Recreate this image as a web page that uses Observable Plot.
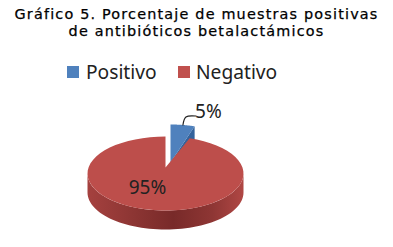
<!DOCTYPE html>
<html>
<head>
<meta charset="utf-8">
<script src="https://cdn.jsdelivr.net/npm/d3@7"></script>
<script src="https://cdn.jsdelivr.net/npm/@observablehq/plot@0.6"></script>
<style>
html,body{margin:0;padding:0;background:#fff;overflow:hidden}
#head{position:relative;width:393px;height:90px}
#title{position:absolute;left:0;top:6px;width:393px;text-align:center;font:14.4px/17px "DejaVu Sans",sans-serif;letter-spacing:1.18px;color:#000;-webkit-text-stroke:.25px #000;white-space:nowrap}
.lg{position:absolute;top:58px;font:19.2px/27px "Noto Sans",sans-serif;color:#222}
.sw{position:absolute;top:66px;width:12px;height:12px}
#chart svg{display:block}
</style>
</head>
<body>
<div id="head">
  <div id="title"></div>
  <span class="sw" style="left:67px;background:#4f81bd"></span><span class="lg" style="left:86px" id="l0"></span>
  <span class="sw" style="left:178px;background:#c0504d"></span><span class="lg" style="left:196px" id="l1"></span>
</div>
<div id="chart"></div>
<script>
const titleLines = ["Gráfico 5. Porcentaje de muestras positivas", "de antibióticos betalactámicos"];
const categories = ["Positivo", "Negativo"];
const values = [5, 95];
const labels = ["5%", "95%"];

document.getElementById("title").innerHTML = titleLines.join("<br>");
categories.forEach((c, i) => document.getElementById("l" + i).textContent = c);

// projection of the tilted pie
const rx = 78, ry = 37, depth = 19;
const centers = [{x: 170, y: 161, lift: 1}, {x: 165, y: 173, lift: -6}];
const arcs = d3.pie().sort(null).startAngle(0).endAngle(2 * Math.PI)(values);
const px = (c, a) => c.x + rx * Math.sin(a);
const py = (c, a) => c.y - ry * Math.cos(a);
const steps = (a0, a1) => d3.range(0, 61).map(i => a0 + (a1 - a0) * i / 60);

const face = i => {
  const c = centers[i], a = arcs[i];
  return [{x: c.x, y: c.y + c.lift}, ...steps(a.startAngle, a.endAngle).map(t => ({x: px(c, t), y: py(c, t)}))];
};
// red outer wall: visible half of the rim
const redC = centers[1];
const wall = [
  ...steps(Math.PI / 2, 3 * Math.PI / 2).map(t => ({x: px(redC, t), y: py(redC, t)})),
  ...steps(3 * Math.PI / 2, Math.PI / 2).map(t => ({x: px(redC, t), y: py(redC, t) + depth}))
];
// blue cut face
const bc = centers[0], be = arcs[0].endAngle;
const cut = [
  {x: bc.x, y: bc.y + bc.lift},
  {x: px(bc, be), y: py(bc, be)},
  {x: px(bc, be), y: py(bc, be) + depth - 5},
  {x: bc.x, y: bc.y + bc.lift + depth}
];
const tip = {x: px(bc, 0.16), y: py(bc, 0.16)};
const leader = [tip, {x: tip.x + 3, y: tip.y - 8}, {x: tip.x + 13, y: tip.y - 9}];

const defs = () => {
  const ns = "http://www.w3.org/2000/svg";
  const d = document.createElementNS(ns, "defs");
  d.innerHTML = `<linearGradient id="side" x1="0" x2="1" y1="0" y2="0">
    <stop offset="0" stop-color="#a5413f"/><stop offset=".3" stop-color="#8c3533"/>
    <stop offset=".55" stop-color="#782a29"/><stop offset=".8" stop-color="#8e3634"/>
    <stop offset="1" stop-color="#b04744"/></linearGradient>`;
  return d;
};

const poly = (pts, fill) => Plot.line(pts, {x: "x", y: "y", fill, stroke: "none", curve: "linear"});

document.getElementById("chart").append(Plot.plot({
  width: 393, height: 157,
  margin: 0,
  x: {domain: [0, 393], range: [0, 393], axis: null},
  y: {domain: [90, 247], range: [0, 157], axis: null},
  style: {background: "#fff"},
  marks: [
    defs,
    poly(cut, "#33639c"),
    poly(face(0), "#4f81bd"),
    poly(wall, "url(#side)"),
    poly(face(1), "#bd4e4b"),
    Plot.line(leader, {x: "x", y: "y", stroke: "#222", strokeWidth: 1.2, curve: "catmull-rom"}),
    Plot.text([labels[0]], {x: () => tip.x + 25.5, y: () => tip.y - 13, text: d => d, fontSize: 19, fill: "#222", fontFamily: "Noto Sans"}),
    Plot.text([labels[1]], {x: () => redC.x - 18, y: () => redC.y + 14, text: d => d, fontSize: 19, fill: "#222", fontFamily: "Noto Sans"})
  ]
}));
</script>
</body>
</html>
